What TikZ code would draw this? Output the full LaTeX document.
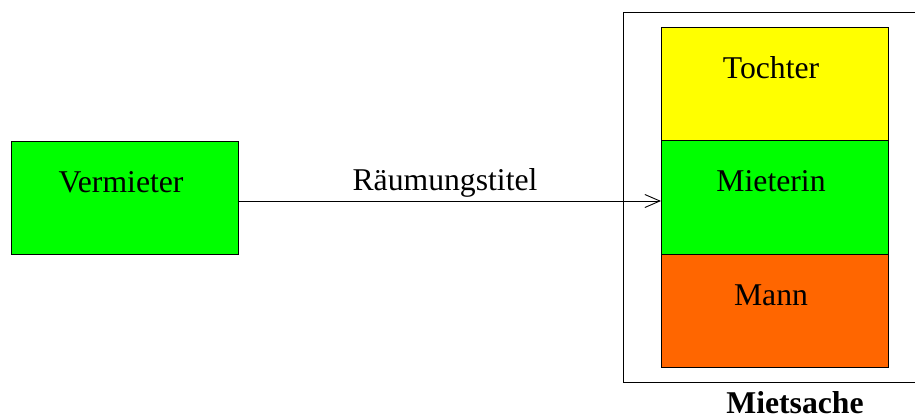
\documentclass[tikz,border=0pt]{standalone}
\usepackage{fontspec}
\setmainfont{Liberation Serif}
\usetikzlibrary{arrows.meta}
\definecolor{cgreen}{HTML}{00FF00}
\definecolor{cyellow}{HTML}{FFFF00}
\definecolor{corange}{HTML}{FF6600}
\begin{document}
\begin{tikzpicture}[x=1pt,y=-1pt,
  box/.style={draw=black,line width=0.9pt,rectangle,inner sep=0pt,anchor=north west},
  txt/.style={font=\fontsize{31.7pt}{36pt}\selectfont,anchor=base,inner sep=0pt},
  conn/.style={draw=black,line width=0.9pt,-{Straight Barb[length=15pt,width=13pt]}}]
\useasboundingbox (0,0) rectangle (915,420);
\clip (0,0) rectangle (915,420);
% outer box
\node[box,minimum width=310pt,minimum height=370pt] (outer) at (623,12) {};
% left box
\node[box,fill=cgreen,minimum width=227pt,minimum height=113pt] (verm) at (11,141) {};
\node[txt] (vermt) at (121,192) {Vermieter};
% stacked boxes
\node[box,fill=cyellow,minimum width=227pt,minimum height=113pt] (toch) at (661,27) {};
\node[box,fill=cgreen,minimum width=227pt,minimum height=114pt] (miet) at (661,140) {};
\node[box,fill=corange,minimum width=227pt,minimum height=113pt] (mann) at (661,254) {};
\node[txt] (tocht) at (771,78) {Tochter};
\node[txt] (mietti) at (771,191) {Mieterin};
\node[txt] (mannt) at (771,305) {Mann};
\node[txt,font=\fontsize{31.7pt}{36pt}\selectfont\bfseries] (sache) at (795,413.5) {Mietsache};
% connector
\coordinate (a) at (verm.east |- 0,201);
\coordinate (b) at (miet.west |- 0,201);
\draw[conn] (a) -- (b);
\node[txt] (rt) at (445,190) {Räumungstitel};
\end{tikzpicture}
\end{document}
